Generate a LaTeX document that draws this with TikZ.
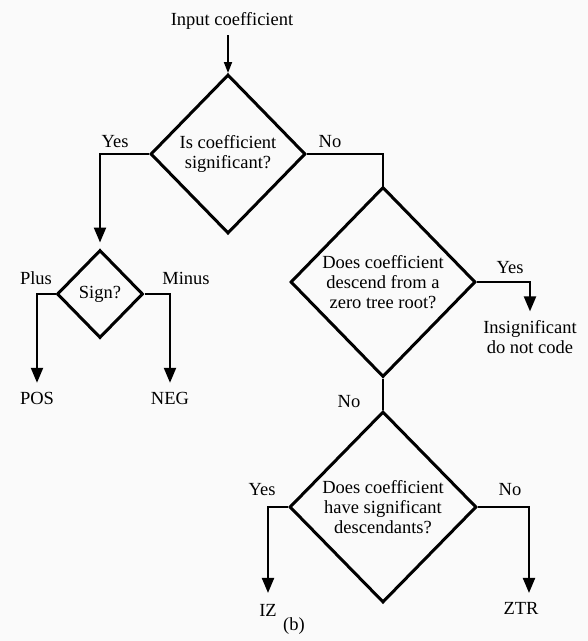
\documentclass[tikz,border=0pt]{standalone}
\usepackage{fontspec}
\setmainfont{Liberation Serif}
\usetikzlibrary{shapes.geometric, arrows.meta}

\begin{document}
\begin{tikzpicture}[
    x=1pt,
    y=-1pt,
    font=\fontsize{18.5}{20}\selectfont,
    decision/.style={
        diamond,
        draw,
        line width=3pt,
        inner sep=0pt,
        align=center
    },
    outcome/.style={
        inner sep=0pt,
        outer sep=9pt,
        align=center
    },
    answer/.style={
        inner sep=0pt
    },
    line/.style={
        line width=2.2pt
    },
    arrow/.style={
        line width=2.2pt,
        -{Triangle[length=15pt, width=12pt]}
    },
    inarrow/.style={
        line width=1.8pt,
        -{Triangle[length=11pt, width=8pt]}
    }
]

\fill [black!2] (0,0) rectangle (588,641);
\useasboundingbox (0,0) rectangle (588,641);

% Decisions
\node [decision, minimum width=155pt, minimum height=159pt] (signif) at (228,154) {Is coefficient\\significant?};
\node [decision, minimum width=86pt, minimum height=88pt] (sign) at (100,294) {Sign?};
\node [decision, minimum width=185pt, minimum height=190pt] (zerotree) at (383,282) {Does coefficient\\descend from a\\zero tree root?};
\node [decision, minimum width=187pt, minimum height=191pt] (descend) at (383,507) {Does coefficient\\have significant\\descendants?};

% Outcomes
\node [outcome, outer sep=6pt] (input) at (232,21) {Input coefficient};
\node [outcome] (pos) at (37,398) {POS};
\node [outcome] (neg) at (170,398) {NEG};
\node [outcome] (insig) at (530,337) {Insignificant\\do not code};
\node [outcome, outer sep=11pt] (iz) at (268,610) {IZ};
\node [outcome] (ztr) at (521,608) {ZTR};

% Branches
\draw [inarrow] (input.south -| signif.north) -- (signif.north);
\draw [arrow, shorten >=6pt] (signif.west) -| (sign.north);
\draw [line] (signif.east) -| (zerotree.north);
\draw [arrow] (sign.west) -| (pos.north);
\draw [arrow] (sign.east) -| (neg.north);
\draw [arrow] (zerotree.east) -| (insig.north);
\draw [line] (zerotree.south) -- (descend.north);
\draw [arrow] (descend.west) -| (iz.north);
\draw [arrow] (descend.east) -| ([xshift=8pt]ztr.north);

% Answers
\node [answer] (yes1) at (115,142) {Yes};
\node [answer] (no1) at (330,142) {No};
\node [answer] (plus) at (36,278) {Plus};
\node [answer] (minus) at (186,278) {Minus};
\node [answer] (yes2) at (510,268) {Yes};
\node [answer] (no2) at (349,402) {No};
\node [answer] (yes3) at (262,490) {Yes};
\node [answer] (no3) at (510,490) {No};

\node (caption) at (294,626) {(b)};

\end{tikzpicture}
\end{document}
